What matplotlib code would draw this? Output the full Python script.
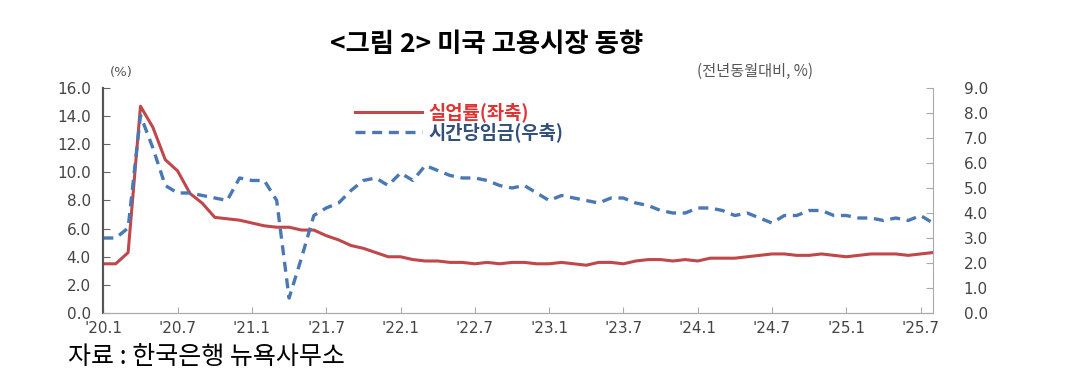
import numpy as np
import matplotlib.pyplot as plt

plt.rcParams['font.family'] = ['Noto Sans CJK KR', 'DejaVu Sans']

# ------------------------------------------------------------------
# Data: monthly, Jan 2020 - Aug 2025
# ------------------------------------------------------------------
unemployment = [
    3.5, 3.5, 4.3, 14.7, 13.2, 10.9, 10.1, 8.5, 7.8, 6.8, 6.7, 6.6,   # 2020
    6.4, 6.2, 6.1, 6.1, 5.9, 5.9, 5.5, 5.2, 4.8, 4.6, 4.3, 4.0,       # 2021
    4.0, 3.8, 3.7, 3.7, 3.6, 3.6, 3.5, 3.6, 3.5, 3.6, 3.6, 3.5,       # 2022
    3.5, 3.6, 3.5, 3.4, 3.6, 3.6, 3.5, 3.7, 3.8, 3.8, 3.7, 3.8,       # 2023
    3.7, 3.9, 3.9, 3.9, 4.0, 4.1, 4.2, 4.2, 4.1, 4.1, 4.2, 4.1,       # 2024
    4.0, 4.1, 4.2, 4.2, 4.2, 4.1, 4.2, 4.3,                           # 2025
]
hourly_wage = [
    3.0, 3.0, 3.4, 7.9, 6.6, 5.1, 4.8, 4.8, 4.7, 4.6, 4.5, 5.4,       # 2020
    5.3, 5.3, 4.5, 0.6, 2.2, 3.9, 4.2, 4.4, 4.9, 5.3, 5.4, 5.1,       # 2021
    5.6, 5.3, 5.9, 5.7, 5.5, 5.4, 5.4, 5.3, 5.1, 5.0, 5.1, 4.8,       # 2022
    4.5, 4.7, 4.6, 4.5, 4.4, 4.6, 4.6, 4.4, 4.3, 4.1, 4.0, 4.0,       # 2023
    4.2, 4.2, 4.1, 3.9, 4.0, 3.8, 3.6, 3.9, 3.9, 4.1, 4.1, 3.9,       # 2024
    3.9, 3.8, 3.8, 3.7, 3.8, 3.7, 3.9, 3.6,                           # 2025
]
tick_labels = ["'20.1", "'20.7", "'21.1", "'21.7", "'22.1", "'22.7",
               "'23.1", "'23.7", "'24.1", "'24.7", "'25.1", "'25.7"]

months = np.arange(len(unemployment))

# ------------------------------------------------------------------
# Figure
# ------------------------------------------------------------------
fig = plt.figure(figsize=(10.89, 3.79), dpi=100)
ax = fig.add_axes([0.0949, 0.174, 0.7618, 0.594])
ax2 = ax.twinx()

red = "#c0474a"
blue = "#4a78b4"

l1, = ax.plot(months, unemployment, color=red, lw=2.2, label="실업률(좌축)")
l2, = ax2.plot(months, hourly_wage, color=blue, lw=2.4, ls=(0, (3, 2)),
               label="시간당임금(우축)")

ax.set_xlim(0, len(months) - 1)
ax.set_ylim(0, 16)
ax2.set_ylim(0, 9)
ax.set_yticks(np.arange(0, 16.1, 2))
ax.set_yticklabels([f"{v:.1f}" for v in np.arange(0, 16.1, 2)])
ax2.set_yticks(np.arange(0, 9.1, 1))
ax2.set_yticklabels([f"{v:.1f}" for v in np.arange(0, 9.1, 1)])
ax.set_xticks(np.arange(0, len(months), 6))
ax.set_xticklabels(tick_labels)

for lab in ax.get_yticklabels() + ax.get_xticklabels() + ax2.get_yticklabels():
    lab.set_fontfamily("DejaVu Sans")
    lab.set_fontsize(11)
    lab.set_color("#444444")

ax.tick_params(axis="y", direction="in", length=5, color="#666666", pad=9)
ax.tick_params(axis="x", direction="in", length=4, color="#aaaaaa", pad=6)
ax2.tick_params(axis="y", direction="in", length=5, color="#aaaaaa", pad=22)

for a in (ax, ax2):
    a.spines["top"].set_visible(False)
ax2.spines["left"].set_color("#555555")
ax2.spines["left"].set_linewidth(1.5)
ax2.spines["right"].set_color("#aaaaaa")
ax2.spines["bottom"].set_color("#aaaaaa")
ax.spines["bottom"].set_color("#aaaaaa")
ax.spines["left"].set_color("#555555")
ax.spines["left"].set_linewidth(1.5)
ax.spines["right"].set_visible(False)

leg = ax.legend(handles=[l1, l2], loc="upper left", bbox_to_anchor=(0.303, 0.935),
                frameon=False, handlelength=3.6, handletextpad=0.35,
                borderpad=0, borderaxespad=0,
                labelspacing=0.0, prop=dict(size=13.5, weight="bold"))
leg.get_texts()[0].set_color("#e03333")
leg.get_texts()[1].set_color("#33507c")

fig.text(0.101, 0.80, "(%)", fontsize=9.5, color="#555555", family="DejaVu Sans")
fig.text(0.693, 0.80, "(전년동월대비, %)", fontsize=11, color="#555555", ha="center")

fig.text(0.447, 0.882, "<그림 2> 미국 고용시장 동향", fontsize=19, weight="bold",
         ha="center", va="center")
fig.text(0.062, 0.058, "자료 : 한국은행 뉴욕사무소", fontsize=18, va="center")

fig.savefig("out.png", dpi=100)
